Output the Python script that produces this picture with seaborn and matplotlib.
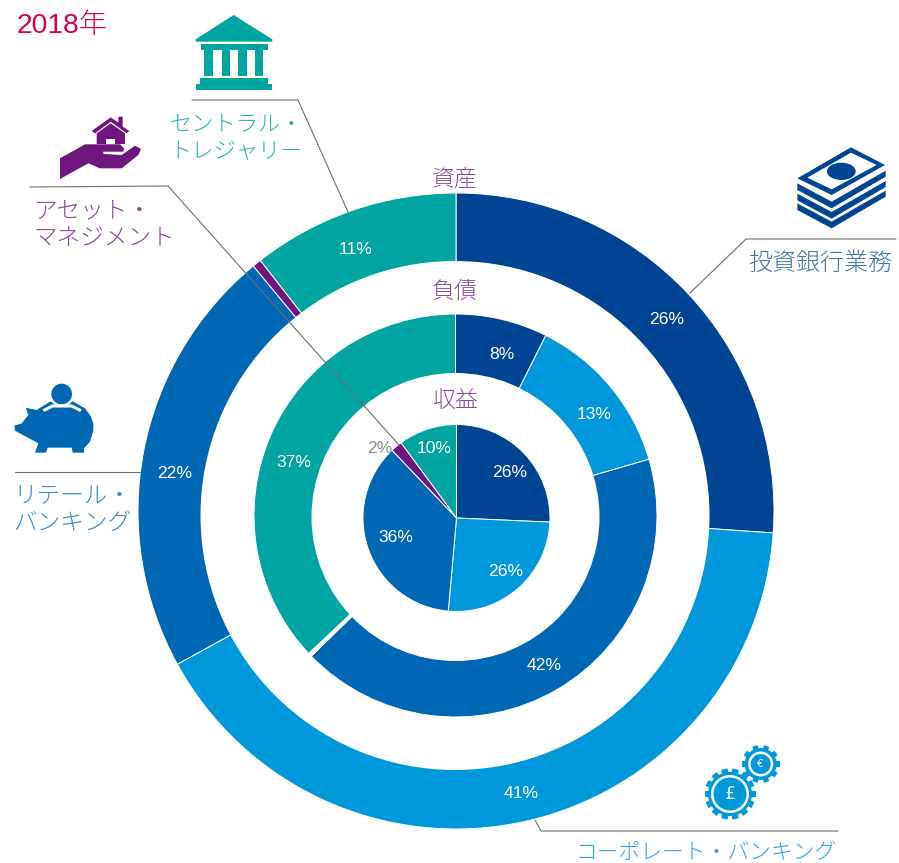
# 2018 segment share rings (assets / liabilities / revenue)
import numpy as np
import seaborn as sns
import matplotlib.pyplot as plt
from matplotlib.patches import Polygon, Circle, Ellipse

sns.set_theme(style="white")
plt.rcParams['font.family'] = ['Liberation Sans', 'Noto Sans CJK JP', 'DejaVu Sans']

# values, clockwise from 12 o'clock
# investment, corporate, retail, asset mgmt, treasury
assets = [26.1, 40.9, 22.0, 0.45, 10.55]
liabilities = [7.4, 13.1, 42.2, 0.3, 37.0]
revenue = [25.7, 25.7, 36.5, 2.0, 10.1]

assets_labels = ['26%', '41%', '22%', '11%']
liabilities_labels = ['8%', '13%', '42%', '37%']
revenue_labels = ['26%', '26%', '36%', '2%', '10%']

NAVY, LIGHT, MID, PURPLE, TEAL = '#004494', '#0098DB', '#0067B5', '#6E1580', '#00A5A1'
CRIMSON = '#D6004F'
palette = sns.color_palette([NAVY, LIGHT, MID, PURPLE, TEAL])
palette_mid = sns.color_palette([NAVY, LIGHT, MID, 'white', TEAL])

W, H = 899, 863
fig = plt.figure(figsize=(W / 100, H / 100), dpi=100)
ax = fig.add_axes([0, 0, 1, 1])
wp = dict(edgecolor='white', linewidth=0.7)


def ring(values, colors, cx, cy, r_out, hole=None):
    # the holes are not quite concentric with the discs, so punch them separately
    ax.pie(values, colors=colors, startangle=90, counterclock=False, radius=r_out,
           center=(cx, H - cy), wedgeprops=wp, frame=True)
    if hole is not None:
        ax.add_patch(Circle((hole[0], H - hole[1]), hole[2], fc='white', ec='none', zorder=5))


ring(assets, palette, 456, 511, 318, (455, 515.5, 254.5))
ring(liabilities, palette_mid, 455.5, 515.5, 201.5, (455.5, 517, 144))
for w in ax.patches[6:11]:
    w.set_zorder(6)
ax.patches[11].set_zorder(7)
ring(revenue, palette, 456.5, 518, 93.5)
for w in ax.patches[12:]:
    w.set_zorder(8)
ax.set_xlim(0, W)
ax.set_ylim(0, H)
ax.set_aspect('equal')
ax.axis('off')

# overlay in image pixels for text, leader lines and icons
ov = fig.add_axes([0, 0, 1, 1])
ov.set_xlim(0, W)
ov.set_ylim(H, 0)
ov.axis('off')
ov.patch.set_alpha(0)


def txt(x, y, s, color='white', size=12.6, ha='center', **kw):
    ov.text(x, y, s, color=color, fontsize=size, ha=ha, va='center', fontweight='light', **kw)


for (x, y), s in zip([(667, 319), (521, 793), (175, 473), (356, 249)], assets_labels):
    txt(x, y, s)
for (x, y), s in zip([(502, 354), (594, 414), (544, 665), (294, 462)], liabilities_labels):
    txt(x, y, s)
for (x, y), s in zip([(510, 472), (506, 571), (396, 537), (380, 448), (434, 448)], revenue_labels):
    txt(x, y, s, color='#8c8c8c' if s == '2%' else 'white')

ring_title = '#8A4A9C'
txt(455, 179, '資産', ring_title, 16.5)
txt(455, 291, '負債', ring_title, 16.5)
txt(455, 400, '収益', ring_title, 16.5)

txt(17, 26, '2018年', CRIMSON, 20.3, ha='left')
txt(169, 125, 'セントラル・', '#2DB5AE', 16, ha='left')
txt(169.5, 153, 'トレジャリー', '#2DB5AE', 16, ha='left')
txt(34, 211, 'アセット・', '#8A4A9C', 17, ha='left')
txt(33, 239, 'マネジメント', '#8A4A9C', 17, ha='left')
txt(748, 264, '投資銀行業務', '#3F74B0', 17.3, ha='left')
txt(13, 496, 'リテール・', '#3F8BC8', 17, ha='left')
txt(13, 524, 'バンキング', '#3F8BC8', 17, ha='left')
txt(575, 853, 'コーポレート・バンキング', '#2FA5E0', 15.7, ha='left')

# leader lines
leaders = [
    ([192, 298, 348], [100, 100, 212]),
    ([30, 168, 399], [187, 186, 445]),
    ([896, 746, 690], [239, 239, 293]),
    ([15, 140], [472, 472]),
    ([838, 541, 535], [831, 831, 820]),
]
for xs, ys in leaders:
    ov.plot(xs, ys, color='#6e6e6e', lw=0.8, solid_joinstyle='miter')


def poly(pts, color, ox=0, oy=0, scale=1 / 3):
    p = [(ox + a * scale, oy + b * scale) for a, b in pts]
    ov.add_patch(Polygon(p, closed=True, fc=color, ec='none'))


# bank icon
poly([(131, 15), (247, 88), (247, 95), (17, 95), (17, 88)], TEAL, 190, 10)
poly([(33, 103), (235, 103), (235, 120), (33, 120)], TEAL, 190, 10)
for x0, x1 in [(43, 70), (95, 120), (144, 170), (194, 220)]:
    poly([(x0, 120), (x1, 120), (x1, 197), (x0, 197)], TEAL, 190, 10)
poly([(30, 205), (235, 205), (235, 222), (247, 222), (247, 240), (17, 240), (17, 222), (30, 222)], TEAL, 190, 10)

# hand + house icon
poly([(180, 475), (255, 433), (360, 433), (372, 445), (370, 455), (310, 455), (310, 462), (365, 465),
      (405, 437), (423, 447), (415, 465), (365, 505), (300, 505), (265, 490), (180, 537)], PURPLE)
poly([(275, 393), (332, 352), (355, 368), (355, 350), (368, 350), (368, 380), (388, 393), (380, 400),
      (332, 365), (285, 400)], PURPLE)
poly([(290, 400), (332, 370), (375, 400), (375, 432), (290, 432)], PURPLE)
poly([(318, 416), (345, 416), (345, 432), (318, 432)], 'white')

# banknotes icon
poly([(513, 52), (615, 105), (455, 195), (352, 145)], NAVY, 680, 130)
poly([(513, 68), (590, 105), (455, 178), (382, 143)], 'white', 680, 130)
ov.add_patch(Ellipse((680 + 484 / 3, 130 + 124 / 3), 86 / 3, 52 / 3, fc=NAVY, ec='none'))
for off in [0, 31, 60]:
    poly([(352, 160 + off), (455, 215 + off), (617, 122 + off), (617, 140 + off), (455, 235 + off),
          (352, 180 + off)], NAVY, 680, 130)

# piggy bank icon
poly([(13, 137), (35, 130), (55, 105), (47, 83), (80, 90), (118, 66), (155, 58), (190, 65), (225, 85), (242, 108),
      (250, 130), (250, 152), (240, 185), (222, 205), (222, 218), (188, 218), (185, 203), (113, 203),
      (108, 218), (75, 218), (85, 190), (15, 152)], MID, 10, 380)
ov.add_patch(Circle((10 + 155 / 3, 380 + 42 / 3), 38 / 3, fc='white', ec='none'))
ov.plot([10 + v / 3 for v in [100, 127, 185, 213]], [380 + v / 3 for v in [92, 78, 78, 92]],
        color='white', lw=2.2, solid_capstyle='butt')
ov.add_patch(Circle((10 + 155 / 3, 380 + 42 / 3), 31 / 3, fc=MID, ec='none'))


def gear(cx, cy, r_body, r_tip, tw, r_ring, r_hub, n, sym):
    ov.add_patch(Circle((cx, cy), r_body, fc=LIGHT, ec='none'))
    for a in np.arange(n) * 2 * np.pi / n:
        ca, sa = np.cos(a), np.sin(a)
        pts = [(cx + r * ca - s * sa, cy + r * sa + s * ca)
               for r, s in [(r_body - 1, -tw / 2), (r_tip, -tw / 2), (r_tip, tw / 2), (r_body - 1, tw / 2)]]
        ov.add_patch(Polygon(pts, fc=LIGHT, ec='none'))
    ov.add_patch(Circle((cx, cy), r_ring, fc='white', ec='none'))
    ov.add_patch(Circle((cx, cy), r_hub, fc=LIGHT, ec='none'))
    ov.text(cx, cy, sym, color='white', fontsize=r_hub * 0.75, ha='center', va='center', family='DejaVu Sans')


gear(730, 794, 22, 25.5, 6.5, 19, 16.5, 14, '£')
gear(760.7, 764, 16, 19, 5.5, 12.5, 10, 10, '€')

fig.savefig('out.png', dpi=100)
